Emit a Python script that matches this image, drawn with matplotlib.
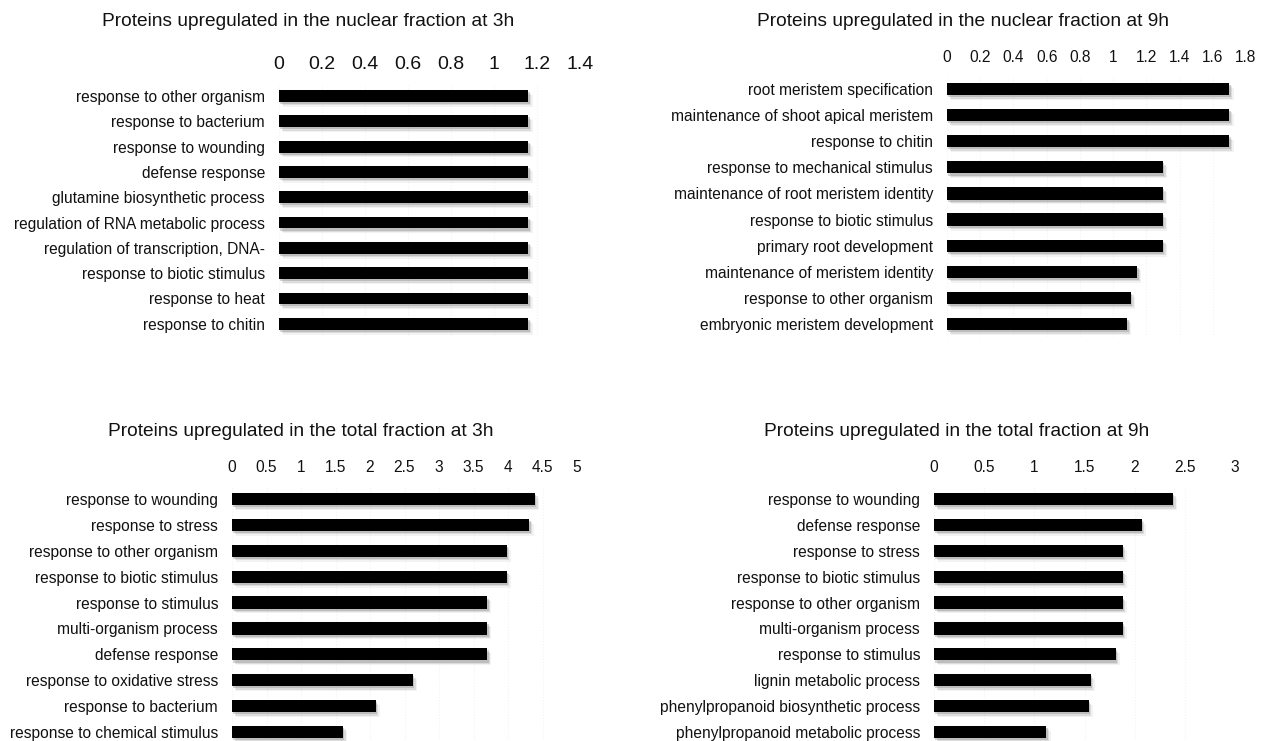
import matplotlib
matplotlib.use("Agg")
import matplotlib.pyplot as plt
import matplotlib.patheffects as pe
import numpy as np

plt.rcParams['font.family'] = ['Liberation Sans', 'DejaVu Sans']

# ---- data -------------------------------------------------------------
nuc3_title = "Proteins upregulated in the nuclear fraction at 3h"
nuc3_terms = ["response to other organism", "response to bacterium",
              "response to wounding", "defense response",
              "glutamine biosynthetic process",
              "regulation of RNA metabolic process",
              "regulation of transcription, DNA-",
              "response to biotic stimulus", "response to heat",
              "response to chitin"]
nuc3_values = [1.16, 1.16, 1.16, 1.16, 1.16, 1.16, 1.16, 1.16, 1.16, 1.16]
nuc3_ticks = [0, 0.2, 0.4, 0.6, 0.8, 1, 1.2, 1.4]

nuc9_title = "Proteins upregulated in the nuclear fraction at 9h"
nuc9_terms = ["root meristem specification",
              "maintenance of shoot apical meristem", "response to chitin",
              "response to mechanical stimulus",
              "maintenance of root meristem identity",
              "response to biotic stimulus", "primary root development",
              "maintenance of meristem identity",
              "response to other organism",
              "embryonic meristem development"]
nuc9_values = [1.70, 1.70, 1.70, 1.30, 1.30, 1.30, 1.30, 1.145, 1.107, 1.085]
nuc9_ticks = [0, 0.2, 0.4, 0.6, 0.8, 1, 1.2, 1.4, 1.6, 1.8]

tot3_title = "Proteins upregulated in the total fraction at 3h"
tot3_terms = ["response to wounding", "response to stress",
              "response to other organism", "response to biotic stimulus",
              "response to stimulus", "multi-organism process",
              "defense response", "response to oxidative stress",
              "response to bacterium", "response to chemical stimulus"]
tot3_values = [4.39, 4.31, 3.98, 3.98, 3.70, 3.70, 3.70, 2.62, 2.08, 1.61]
tot3_ticks = [0, 0.5, 1, 1.5, 2, 2.5, 3, 3.5, 4, 4.5, 5]

tot9_title = "Proteins upregulated in the total fraction at 9h"
tot9_terms = ["response to wounding", "defense response",
              "response to stress", "response to biotic stimulus",
              "response to other organism", "multi-organism process",
              "response to stimulus", "lignin metabolic process",
              "phenylpropanoid biosynthetic process",
              "phenylpropanoid metabolic process"]
tot9_values = [2.38, 2.07, 1.88, 1.88, 1.88, 1.88, 1.81, 1.56, 1.54, 1.12]
tot9_ticks = [0, 0.5, 1, 1.5, 2, 2.5, 3]

# ---- figure -----------------------------------------------------------
W, H = 1267, 741
fig = plt.figure(figsize=(W / 100, H / 100), dpi=100)
fig.patch.set_facecolor('white')


def px_axes(left, right, top, bottom):
    """Axes from pixel edges (y measured from the top of the figure)."""
    return fig.add_axes([left / W, 1 - bottom / H, (right - left) / W,
                         (bottom - top) / H])


# soft drop shadow under each bar
shadow = [
    pe.SimplePatchShadow(offset=(1.0, -1.5), shadow_rgbFace='#555555', alpha=0.25),
    pe.SimplePatchShadow(offset=(2.0, -2.5), shadow_rgbFace='#777777', alpha=0.18),
    pe.SimplePatchShadow(offset=(3.0, -3.5), shadow_rgbFace='#999999', alpha=0.12),
    pe.Normal(),
]


def panel(box, title, title_xy, terms, values, ticks, tick_size, tick_pad):
    ax = px_axes(*box)
    y = np.arange(len(terms))
    bars = ax.barh(y, values, height=0.47, color='black', zorder=3)
    for b in bars:
        b.set_path_effects(shadow)
    ax.set_ylim(len(terms) - 0.5, -0.5)
    ax.set_xlim(ticks[0], ticks[-1])
    ax.set_yticks(y)
    ax.set_yticklabels(terms, fontsize=11.2, color='#111111')
    ax.set_xticks(ticks)
    ax.set_xticklabels([f"{t:g}" for t in ticks], fontsize=tick_size,
                       color='#111111')
    ax.xaxis.tick_top()
    ax.tick_params(axis='x', length=0, pad=tick_pad)
    ax.tick_params(axis='y', length=0, pad=10)
    for s in ax.spines.values():
        s.set_visible(False)
    ax.grid(axis='x', color='#f3f3f3', linestyle=':', linewidth=0.8, zorder=0)
    ax.set_axisbelow(True)
    fig.text(title_xy[0] / W, 1 - title_xy[1] / H, title, fontsize=13.8,
             ha='center', va='center', color='#111111')
    return ax


panel((279, 580, 83.4, 336.4), nuc3_title, (308, 22), nuc3_terms,
      nuc3_values, nuc3_ticks, 14, 7.5)
panel((947, 1246, 76, 337), nuc9_title, (963, 22), nuc9_terms,
      nuc9_values, nuc9_ticks, 11.2, 8)
panel((232, 577, 486, 745), tot3_title, (301, 432), tot3_terms,
      tot3_values, tot3_ticks, 11.2, 8)
panel((934, 1235, 486, 745), tot9_title, (957, 432), tot9_terms,
      tot9_values, tot9_ticks, 11.2, 8)

fig.savefig("out.png", dpi=100, facecolor='white')
